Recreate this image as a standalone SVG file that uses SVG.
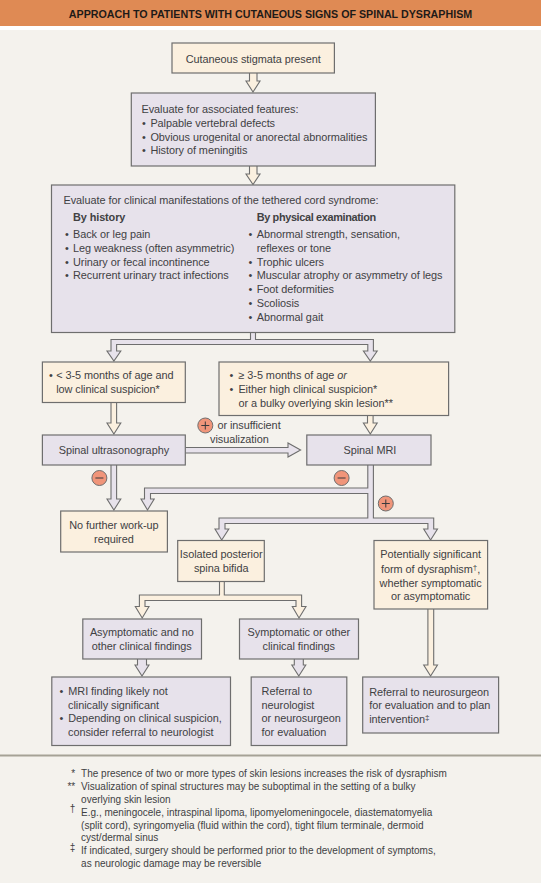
<svg xmlns="http://www.w3.org/2000/svg" width="541" height="883" viewBox="0 0 541 883">
<style>
text{font-family:"Liberation Sans",Arial,sans-serif;font-size:10.9px;fill:#414143;letter-spacing:-0.05px}
.c{text-anchor:middle}
.b{font-weight:700}
.f{font-size:10px;letter-spacing:0}
.box{stroke:#6e6e6e;stroke-width:1.2}
.p{fill:#E7E2EB}
.o{fill:#FBF0DF}
.arr{stroke:#6e6e6e;stroke-width:1.1}
.sign{fill:#F0957A;stroke:#6e6e6e;stroke-width:1}
.mark{stroke:#3a3a3c;stroke-width:1;fill:none}
</style>
<rect x="0" y="0" width="541" height="26" fill="#DF8A54"/>
<rect x="0" y="26" width="541" height="4" fill="#fff"/>
<rect x="0" y="30" width="541" height="853" fill="#F4F2ED"/>
<rect x="0" y="754.5" width="541" height="2" fill="#A5A296"/>
<text x="270.500" y="18" class="c b" style="font-size:10.700px;letter-spacing:0;fill:#1e1a18">APPROACH TO PATIENTS WITH CUTANEOUS SIGNS OF SPINAL DYSRAPHISM</text>

<g id="connectors">
<path class="arr o" d="M249.500,73V81H246L253,92L260,81H257V73"/>
<path class="arr o" d="M249.500,166V174H246L253,184.500L260,174H257V166"/>
<path class="arr p" d="M250.500,332.500V339.500H111V351H107L113.900,361L120.800,351H116.600V344.500H367.800V351H363.400L370.300,361L377.200,351H373.400V339.500H255.500V332.500"/>
<path class="arr o" d="M111,402.500V423H107L113.900,434L120.800,423H116.600V402.500"/>
<path class="arr o" d="M367.500,415.500V423H363.400L370.300,434L377.200,423H373.100V415.500"/>
<path class="arr p" d="M185.300,447.500H288V443L300.600,450L288,457V453H185.300"/>
<path class="arr p" d="M111,465V499H107L113.900,510L120.800,499H116.600V465"/>
<path class="arr p" d="M367.800,465V488H144.500V499H141L147.500,510L154.200,499H150.500V493.500H367.800V518H219V529H215L221.700,540L228.800,529H225V523.500H427.900V529H423.700L430.600,540L437.500,529H433.700V518H373.400V465"/>
<path class="arr o" d="M219.500,581.300V595H139.400V606.500H135.300L142.200,618L149,606.500H145V600.500H296V606.500H292.300L299,618L306,606.500H301.600V595H224.300V581.300"/>
<path class="arr p" d="M137.500,659V665H135L142,676L149,665H146.500V659"/>
<path class="arr p" d="M294.300,659V665H291.800L298.800,676L305.800,665H303.300V659"/>
<path class="arr o" d="M427.900,609V665H423.700L430.600,676L437.500,665H433.700V609"/>
</g>

<g id="n-stigmata"><rect class="box o" x="172" y="43" width="162.400" height="30"/><text x="253.200" y="62.500" class="c">Cutaneous stigmata present</text></g>
<g id="n-associated"><rect class="box p" x="131.300" y="93" width="244.100" height="73"/>
<text x="141.500" y="113">Evaluate for associated features:</text>
<text><tspan x="142" y="127">•</tspan><tspan x="150.400">Palpable vertebral defects</tspan></text>
<text><tspan x="142" y="141">•</tspan><tspan x="150.400">Obvious urogenital or anorectal abnormalities</tspan></text>
<text><tspan x="142" y="154">•</tspan><tspan x="150.400">History of meningitis</tspan></text></g>
<g id="n-tethered"><rect class="box p" x="51.500" y="185" width="403.300" height="147.500"/>
<text x="63.500" y="204">Evaluate for clinical manifestations of the tethered cord syndrome:</text>
<text x="73" y="221" class="b" style="letter-spacing:-0.1px">By history</text>
<text x="256.700" y="221" class="b" style="letter-spacing:-0.35px">By physical examination</text>
<text><tspan x="65" y="238">•</tspan><tspan x="73">Back or leg pain</tspan></text>
<text><tspan x="65" y="252">•</tspan><tspan x="73">Leg weakness (often asymmetric)</tspan></text>
<text><tspan x="65" y="265.500">•</tspan><tspan x="73">Urinary or fecal incontinence</tspan></text>
<text><tspan x="65" y="279">•</tspan><tspan x="73">Recurrent urinary tract infections</tspan></text>
<text><tspan x="248.500" y="238">•</tspan><tspan x="256.700">Abnormal strength, sensation,</tspan></text>
<text x="256.700" y="252">reflexes or tone</text>
<text><tspan x="248.500" y="265.500">•</tspan><tspan x="256.700">Trophic ulcers</tspan></text>
<text><tspan x="248.500" y="279">•</tspan><tspan x="256.700">Muscular atrophy or asymmetry of legs</tspan></text>
<text><tspan x="248.500" y="293">•</tspan><tspan x="256.700">Foot deformities</tspan></text>
<text><tspan x="248.500" y="306.500">•</tspan><tspan x="256.700">Scoliosis</tspan></text>
<text><tspan x="248.500" y="320.500">•</tspan><tspan x="256.700">Abnormal gait</tspan></text></g>
<g id="n-young"><rect class="box o" x="42.400" y="362" width="142.900" height="40.500"/>
<text><tspan x="49" y="379">•</tspan><tspan x="56.200">&lt; 3-5 months of age and</tspan></text>
<text x="56.200" y="393">low clinical suspicion*</text></g>
<g id="n-older"><rect class="box o" x="219" y="362" width="229.600" height="53.500"/>
<text><tspan x="229.500" y="379">•</tspan><tspan x="238.400">≥ 3-5 months of age <tspan font-style="italic">or</tspan></tspan></text>
<text><tspan x="229.500" y="393">•</tspan><tspan x="238.400">Either high clinical suspicion*</tspan></text>
<text x="238.400" y="406.500">or a bulky overlying skin lesion**</text></g>
<g id="n-us"><rect class="box p" x="42.400" y="435" width="142.900" height="30"/><text x="113.900" y="453.500" class="c">Spinal ultrasonography</text></g>
<g id="n-mri"><rect class="box p" x="306.800" y="435" width="124.200" height="30"/><text x="369.900" y="453.500" class="c">Spinal MRI</text></g>
<g id="n-none"><rect class="box o" x="60.700" y="511" width="106.700" height="41"/>
<text x="113.900" y="528.500" class="c">No further work-up</text><text x="113.900" y="542.500" class="c">required</text></g>
<g id="n-isolated"><rect class="box o" x="177.700" y="540.500" width="86.600" height="41"/>
<text x="221.200" y="558" class="c">Isolated posterior</text><text x="221.200" y="572" class="c">spina bifida</text></g>
<g id="n-potential"><rect class="box o" x="374" y="540.500" width="113.600" height="68.500"/>
<text x="430.600" y="558" class="c">Potentially significant</text>
<text x="430.600" y="573" class="c">form of dysraphism<tspan dy="-3" font-size="8">†</tspan><tspan dy="3">,</tspan></text>
<text x="430.600" y="587" class="c">whether symptomatic</text>
<text x="430.600" y="600" class="c">or asymptomatic</text></g>
<g id="n-asym"><rect class="box p" x="82.800" y="619" width="118.700" height="40"/>
<text x="141.800" y="636" class="c">Asymptomatic and no</text><text x="141.800" y="650" class="c">other clinical findings</text></g>
<g id="n-sym"><rect class="box p" x="239.500" y="619" width="119" height="40"/>
<text x="298.800" y="636" class="c">Symptomatic or other</text><text x="298.800" y="650" class="c">clinical findings</text></g>
<g id="n-mrifinding"><rect class="box p" x="51.800" y="677" width="178.700" height="68.500"/>
<text><tspan x="59.500" y="695">•</tspan><tspan x="68.300">MRI finding likely not</tspan></text>
<text x="68" y="708.500">clinically significant</text>
<text><tspan x="59.500" y="722">•</tspan><tspan x="68.300">Depending on clinical suspicion,</tspan></text>
<text x="68" y="736">consider referral to neurologist</text></g>
<g id="n-referral"><rect class="box p" x="251.200" y="677" width="95.600" height="68.500"/>
<text x="261.600" y="695">Referral to</text>
<text x="261.600" y="708.500">neurologist</text>
<text x="261.600" y="722">or neurosurgeon</text>
<text x="261.600" y="736">for evaluation</text></g>
<g id="n-neurosurgeon"><rect class="box p" x="362.700" y="677" width="135.900" height="56"/>
<text x="369.200" y="695.500">Referral to neurosurgeon</text>
<text x="369.200" y="709">for evaluation and to plan</text>
<text x="369.200" y="723">intervention<tspan dy="-3" font-size="8">‡</tspan></text></g>

<g id="signs">
<circle class="sign" cx="205.300" cy="425.500" r="7.500"/><path class="mark" d="M201.300,425.500h8M205.300,421.500v8"/>
<circle class="sign" cx="99.400" cy="478" r="7.500"/><path class="mark" d="M95.400,478h8"/>
<circle class="sign" cx="341.600" cy="478" r="7.500"/><path class="mark" d="M337.600,478h8"/>
<circle class="sign" cx="385.800" cy="503.500" r="7.500"/><path class="mark" d="M381.800,503.500h8M385.800,499.500v8"/>
<text x="217.400" y="429">or insufficient</text>
<text x="210" y="442.500">visualization</text>
</g>

<g id="footnotes">
<text x="75.200" y="777" class="f" text-anchor="end">*</text>
<text x="81.100" y="777" class="f">The presence of two or more types of skin lesions increases the risk of dysraphism</text>
<text x="75.200" y="790" class="f" text-anchor="end">**</text>
<text x="81.100" y="790" class="f">Visualization of spinal structures may be suboptimal in the setting of a bulky</text>
<text x="81.100" y="803" class="f">overlying skin lesion</text>
<text x="75.200" y="812" class="f" text-anchor="end">†</text>
<text x="81.100" y="815.500" class="f">E.g., meningocele, intraspinal lipoma, lipomyelomeningocele, diastematomyelia</text>
<text x="81.100" y="828.500" class="f">(split cord), syringomyelia (fluid within the cord), tight filum terminale, dermoid</text>
<text x="81.100" y="841" class="f">cyst/dermal sinus</text>
<text x="75.200" y="851" class="f" text-anchor="end">‡</text>
<text x="81.100" y="854" class="f">If indicated, surgery should be performed prior to the development of symptoms,</text>
<text x="81.100" y="867" class="f">as neurologic damage may be reversible</text>
</g>
</svg>
